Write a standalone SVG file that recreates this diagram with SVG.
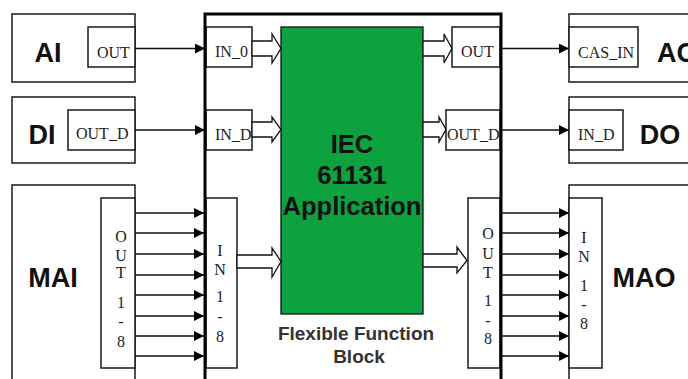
<svg xmlns="http://www.w3.org/2000/svg" width="688" height="379" viewBox="0 0 688 379">
<defs>
<style>
.box{fill:#fff;stroke:#1a1a1a;stroke-width:1.5}
.thick{fill:none;stroke:#000;stroke-width:3}
.big{font-family:"Liberation Sans",Arial,sans-serif;font-weight:bold;font-size:27px;fill:#111}
.port{font-family:"Liberation Serif","Times New Roman",serif;font-size:16px;fill:#222}
.app{font-family:"Liberation Sans",Arial,sans-serif;font-weight:bold;font-size:25.5px;fill:#111;text-anchor:middle}
.cap{font-family:"Liberation Sans",Arial,sans-serif;font-weight:bold;font-size:19px;fill:#333;text-anchor:middle}
.vt{font-family:"Liberation Serif","Times New Roman",serif;font-size:16px;fill:#222;text-anchor:middle}
.wire{fill:none;stroke:#111;stroke-width:1.5;marker-end:url(#ah)}
.hollow{fill:#fff;stroke:#111;stroke-width:1.3}
</style>
<marker id="ah" markerUnits="userSpaceOnUse" markerWidth="11" markerHeight="10" refX="10" refY="5" orient="auto">
<path d="M0,0 L10,5 L0,10 z" fill="#000"/>
</marker>
</defs>
<rect width="688" height="379" fill="#fff"/>

<g id="AI">
<rect class="box" x="12" y="14" width="123" height="68"/>
<rect class="box" x="88" y="27" width="47" height="40"/>
<text class="big" x="48" y="62" text-anchor="middle">AI</text>
<text class="port" x="97" y="58">OUT</text>
</g>

<g id="DI">
<rect class="box" x="12" y="97" width="123" height="66"/>
<rect class="box" x="68" y="110" width="67" height="40"/>
<text class="big" x="42" y="144" text-anchor="middle">DI</text>
<text class="port" x="76" y="139">OUT_D</text>
</g>

<g id="MAI">
<rect class="box" x="12" y="185" width="123" height="210"/>
<rect class="box" x="101" y="198" width="34" height="170"/>
<text class="big" x="53" y="287" text-anchor="middle">MAI</text>
<text class="vt" x="121" y="242">O</text>
<text class="vt" x="121" y="261">U</text>
<text class="vt" x="121" y="278">T</text>
<text class="vt" x="121" y="308">1</text>
<text class="vt" x="121" y="327">-</text>
<text class="vt" x="121" y="347">8</text>
</g>

<g id="AO">
<rect class="box" x="569" y="14" width="130" height="68"/>
<rect class="box" x="569" y="27" width="69" height="40"/>
<text class="port" x="578" y="58">CAS_IN</text>
<text class="big" x="657" y="62">AO</text>
</g>

<g id="DO">
<rect class="box" x="569" y="97" width="130" height="66"/>
<rect class="box" x="569" y="110" width="54" height="40"/>
<text class="port" x="578" y="140">IN_D</text>
<text class="big" x="660" y="144" text-anchor="middle">DO</text>
</g>

<g id="MAO">
<rect class="box" x="569" y="185" width="130" height="210"/>
<rect class="box" x="569" y="198" width="33" height="170"/>
<text class="big" x="644" y="287" text-anchor="middle">MAO</text>
<text class="vt" x="584" y="243">I</text>
<text class="vt" x="584" y="262">N</text>
<text class="vt" x="584" y="291">1</text>
<text class="vt" x="584" y="310">-</text>
<text class="vt" x="584" y="329">8</text>
</g>

<g id="FFB">
<rect class="box" x="206" y="27" width="46" height="40"/>
<text class="port" x="215" y="57">IN_0</text>
<rect class="box" x="206" y="110" width="46" height="40"/>
<text class="port" x="215" y="140">IN_D</text>
<rect class="box" x="206" y="198" width="31" height="170"/>
<text class="vt" x="220" y="256">I</text>
<text class="vt" x="220" y="275">N</text>
<text class="vt" x="220" y="302">1</text>
<text class="vt" x="220" y="322">-</text>
<text class="vt" x="220" y="342">8</text>
<rect class="box" x="452" y="27" width="48" height="40"/>
<text class="port" x="461" y="57">OUT</text>
<rect class="box" x="446" y="110" width="54" height="40"/>
<text class="port" x="447" y="140">OUT_D</text>
<rect class="box" x="468" y="198" width="32" height="170"/>
<text class="vt" x="488" y="239">O</text>
<text class="vt" x="488" y="259">U</text>
<text class="vt" x="488" y="278">T</text>
<text class="vt" x="488" y="306">1</text>
<text class="vt" x="488" y="326">-</text>
<text class="vt" x="488" y="344">8</text>
<rect class="thick" x="205" y="14" width="296" height="400"/>
<g id="app">
<rect x="281" y="27" width="142" height="287" fill="#0da140" stroke="#111" stroke-width="1.3"/>
<text class="app" x="352" y="153">IEC</text>
<text class="app" x="352" y="184">61131</text>
<text class="app" x="352" y="215">Application</text>
</g>
<text class="cap" x="356" y="340">Flexible Function</text>
<text class="cap" x="359" y="363">Block</text>
</g>

<g id="connectors">
<path class="wire" d="M135,48.5 H205"/>
<path class="wire" d="M135,130 H205"/>
<path class="wire" d="M501,48.5 H569"/>
<path class="wire" d="M501,130 H569"/>
<path class="wire" d="M135,213 H204"/>
<path class="wire" d="M135,233 H204"/>
<path class="wire" d="M135,254 H204"/>
<path class="wire" d="M135,275 H204"/>
<path class="wire" d="M135,295 H204"/>
<path class="wire" d="M135,316 H204"/>
<path class="wire" d="M135,336 H204"/>
<path class="wire" d="M135,356 H204"/>
<path class="wire" d="M502,213 H569"/>
<path class="wire" d="M502,233 H569"/>
<path class="wire" d="M502,254 H569"/>
<path class="wire" d="M502,275 H569"/>
<path class="wire" d="M502,295 H569"/>
<path class="wire" d="M502,316 H569"/>
<path class="wire" d="M502,336 H569"/>
<path class="wire" d="M502,356 H569"/>
<polygon class="hollow" points="252,41 272,41 272,34 281,48.5 272,63 272,56 252,56"/>
<polygon class="hollow" points="252,122 272,122 272,117 281,129.5 272,142 272,137 252,137"/>
<polygon class="hollow" points="423,41 444,41 444,34 452,48.5 444,63 444,56 423,56"/>
<polygon class="hollow" points="423,122 439,122 439,117 446,129.5 439,142 439,137 423,137"/>
<polygon class="hollow" points="237,255 272,255 272,248 281,261.5 272,277 272,268 237,268"/>
<polygon class="hollow" points="423,254 457,254 457,247 467,260.5 457,273 457,267 423,267"/>
</g>
</svg>
